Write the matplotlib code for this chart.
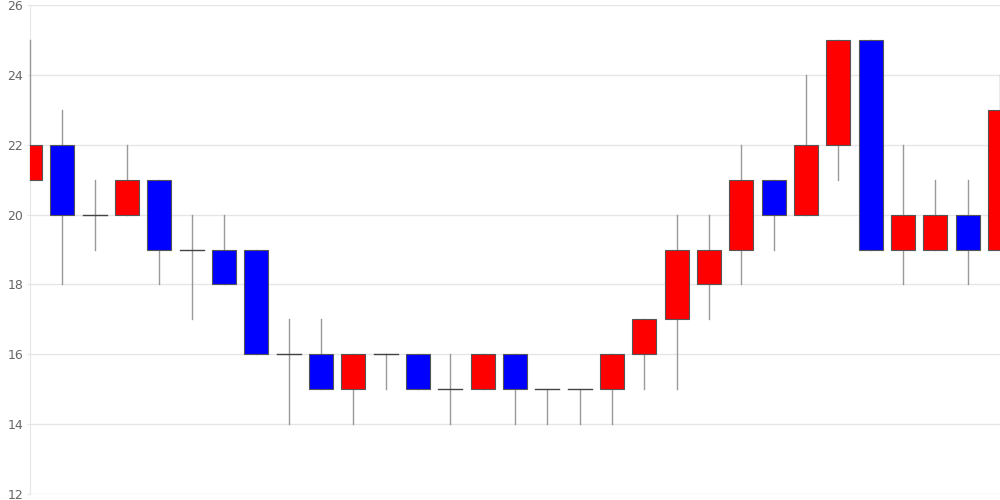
import matplotlib
matplotlib.use("Agg")
from matplotlib import pyplot as plt
from matplotlib.patches import Rectangle

# candle data
opens  = [21, 22, 20, 20, 21, 19, 19, 19, 16, 16, 15, 16, 16, 15, 15, 16, 15, 15, 15, 16, 17, 18, 19, 21, 20, 22, 25, 19, 19, 20, 19]
highs  = [25, 23, 21, 22, 21, 20, 20, 19, 17, 17, 16, 16, 16, 16, 16, 16, 15, 15, 16, 17, 20, 20, 22, 21, 24, 25, 25, 22, 21, 21, 24]
lows   = [21, 18, 19, 20, 18, 17, 18, 16, 14, 15, 14, 15, 15, 14, 15, 14, 14, 14, 14, 15, 15, 17, 18, 19, 20, 21, 19, 18, 19, 18, 19]
closes = [22, 20, 20, 21, 19, 19, 18, 16, 16, 15, 16, 16, 15, 15, 16, 15, 15, 15, 16, 17, 19, 19, 21, 20, 22, 25, 19, 20, 20, 19, 23]
yticks = [12, 14, 16, 18, 20, 22, 24, 26]

fig = plt.figure(figsize=(10, 5), dpi=100)
ax = fig.add_axes([0.03, 0.012, 0.97, 0.978])

w = 0.74
for i in range(len(opens)):
    o, h, l, c = opens[i], highs[i], lows[i], closes[i]
    ax.plot([i, i], [l, h], color="#999999", lw=1, zorder=4, clip_on=False)
    if o == c:
        ax.plot([i - w / 2, i + w / 2], [o, o], color="#444444", lw=1, zorder=5)
        continue
    col = "#ff0000" if c > o else "#0000ff"
    ax.add_patch(Rectangle((i - w / 2, min(o, c)), w, abs(c - o),
                           facecolor=col, edgecolor="#555555", lw=0.8, zorder=5))

ax.set_xlim(0, len(opens) - 1)
ax.set_ylim(12, 26)
ax.set_yticks(yticks)
ax.set_xticks([])
ax.grid(axis="y", color="#e6e6e6", lw=1)
ax.set_axisbelow(True)
for s in ["top", "right", "bottom"]:
    ax.spines[s].set_visible(False)
ax.spines["left"].set_color("#e6e6e6")
ax.spines["left"].set_zorder(1)
ax.tick_params(axis="y", length=2, color="#e6e6e6", labelcolor="#666666", labelsize=9, pad=3)

fig.savefig("out.png", dpi=100)
